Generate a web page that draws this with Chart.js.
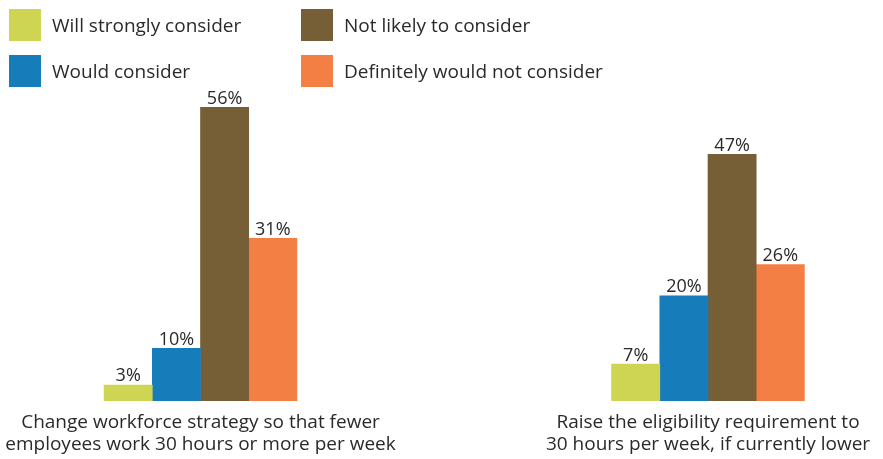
<!DOCTYPE html>
<html>
<head>
<meta charset="utf-8">
<script src="https://cdn.jsdelivr.net/npm/chart.js@4/dist/chart.umd.min.js"></script>
<style>
  html, body { margin: 0; padding: 0; background: #ffffff; }
  canvas { display: block; }
</style>
</head>
<body>
<canvas id="chart" width="883" height="459"></canvas>
<script>
// Survey responses, percent of employers, by possible action
const categories = [
  ['Change workforce strategy so that fewer', 'employees work 30 hours or more per week'],
  ['Raise the eligibility requirement to', '30 hours per week, if currently lower']
];
const seriesNames = [
  'Will strongly consider',
  'Would consider',
  'Not likely to consider',
  'Definitely would not consider'
];
const willStrongly = [3, 7];
const wouldConsider = [10, 20];
const notLikely = [56, 47];
const definitelyNot = [31, 26];
const seriesColors = ['#cdd553', '#167dba', '#765f36', '#f47f45'];

const TEXT = '#2a2a2a';
const FONT = '"Open Sans", "Noto Sans", sans-serif';

// Two-column legend with square swatches, filled column by column
const squareLegend = {
  id: 'squareLegend',
  afterDraw(chart) {
    const ctx = chart.ctx;
    const colX = [9, 301];
    const rowY = [9, 55];
    const box = 32;
    ctx.save();
    ctx.font = '19px ' + FONT;
    ctx.textAlign = 'left';
    ctx.textBaseline = 'alphabetic';
    chart.data.datasets.forEach((ds, i) => {
      const x = colX[Math.floor(i / 2)];
      const y = rowY[i % 2];
      ctx.fillStyle = ds.backgroundColor;
      ctx.fillRect(x, y, box, box);
      ctx.fillStyle = TEXT;
      ctx.fillText(ds.label, x + box + 11, y + box / 2 + 6.5);
    });
    ctx.restore();
  }
};

// Percent labels above each bar
const valueLabels = {
  id: 'valueLabels',
  afterDatasetsDraw(chart) {
    const ctx = chart.ctx;
    ctx.save();
    ctx.font = '18px ' + FONT;
    ctx.textAlign = 'center';
    ctx.textBaseline = 'alphabetic';
    ctx.fillStyle = TEXT;
    chart.data.datasets.forEach((ds, i) => {
      const meta = chart.getDatasetMeta(i);
      meta.data.forEach((bar, j) => {
        ctx.fillText(ds.data[j] + '%', bar.x, bar.y - 3.5);
      });
    });
    ctx.restore();
  }
};

const datasets = [willStrongly, wouldConsider, notLikely, definitelyNot].map((values, i) => ({
  label: seriesNames[i],
  data: values,
  backgroundColor: seriesColors[i],
  borderWidth: 0,
  barThickness: 48.2,
  clip: false
}));

new Chart(document.getElementById('chart'), {
  type: 'bar',
  data: { labels: categories, datasets },
  options: {
    responsive: false,
    animation: false,
    events: [],
    layout: { padding: { left: 200.5, right: 175, top: 86.3, bottom: 0 } },
    plugins: { legend: { display: false }, tooltip: { enabled: false } },
    scales: {
      x: {
        offset: false,
        grid: { display: false, drawTicks: false },
        border: { display: false },
        ticks: {
          color: TEXT,
          font: { family: FONT, size: 19, lineHeight: '22px' },
          padding: 11,
          maxRotation: 0,
          autoSkip: false
        },
        afterFit(scale) {
          // the labels sit in the layout padding; keep the plot area fixed
          scale.height = 58.3;
          scale.paddingLeft = 0;
          scale.paddingRight = 0;
        }
      },
      y: {
        display: false,
        min: 0,
        max: 60
      }
    }
  },
  plugins: [squareLegend, valueLabels]
});
</script>
</body>
</html>
